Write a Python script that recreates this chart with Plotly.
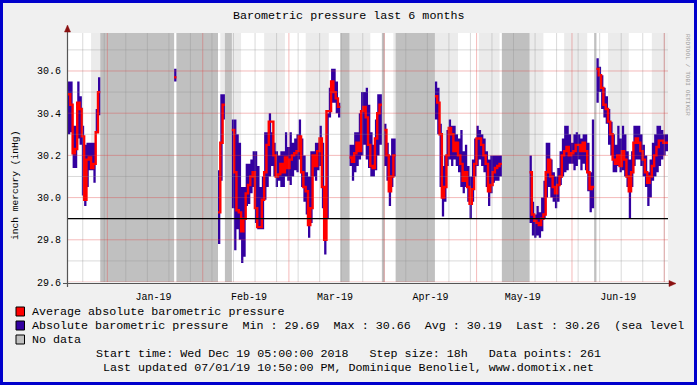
import pandas as pd
import plotly.graph_objects as go

# ---------------- chart constants / data ----------------
TITLE = "Barometric pressure last 6 months"
Y_TITLE = "inch mercury (inHg)"
START = pd.Timestamp("2018-12-19 05:00:00")
X_END = pd.Timestamp("2019-07-02 05:00:00")
STEP_HOURS = 18
N_POINTS = 261
Y_MIN, Y_MAX = 29.6, 30.78
HRULE_VALUE = 29.9

Y_TICKS = [29.6, 29.8, 30.0, 30.2, 30.4, 30.6]
Y_MINOR = [29.7, 29.9, 30.1, 30.3, 30.5, 30.7]
MONTH_LABELS = ["Jan-19", "Feb-19", "Mar-19", "Apr-19", "May-19", "Jun-19"]
MONTH_LABEL_POS = ["2019-01-16", "2019-02-16", "2019-03-16", "2019-04-16", "2019-05-16", "2019-06-16"]
MONTH_STARTS = ["2019-01-01", "2019-02-01", "2019-03-01", "2019-04-01", "2019-05-01", "2019-06-01", "2019-07-01"]
WEEK_STARTS = list(pd.date_range("2018-12-24", "2019-07-01", freq="7D"))

# min / max / average per 18h step, segment by segment (None = no data)
A_MIN = [30.30, 30.31, 30.14, 30.14, 30.28, 30.25, 30.01, 29.96, 30.05, 30.13, 30.13, 30.07, 30.31, 30.39]
A_MAX = [30.55, 30.55, 30.34, 30.34, 30.55, 30.48, 30.34, 30.25, 30.26, 30.26, 30.26, 30.26, 30.42, 30.57]
A_AVG = [30.49, 30.44, 30.21, 30.23, 30.45, 30.42, 30.29, 29.99, 30.18, 30.19, 30.14, 30.16, 30.31, 30.50]

B_MIN = [30.55]
B_MAX = [30.61]
B_AVG = [30.57]

C_MIN = [29.78, 30.08, 30.37]
C_MAX = [30.13, 30.49, 30.49]
C_AVG = [29.93, 30.26, 30.44]

D_MIN = [29.95, 29.75, 29.85, 29.80, 29.69, 29.72, 29.96, 29.97, 30.02, 30.05,
         29.88, 29.85, 29.85, 29.85, 29.99, 30.05, 30.10, 30.15, 30.10, 30.05,
         30.08, 30.05, 30.05, 30.10, 30.08, 30.06, 30.10, 30.13, 30.12, 30.18,
         30.05, 29.98, 29.92, 29.81, 29.88, 30.10, 30.08, 30.13, 30.15, 29.95,
         29.73, 29.90, 30.38, 30.45, 30.45, 30.40, 30.38]
D_MAX = [30.37, 30.37, 30.30, 30.26, 30.05, 30.05, 30.16, 30.16, 30.18, 30.22,
         30.22, 30.15, 30.05, 30.10, 30.31, 30.31, 30.40, 30.31, 30.26, 30.22,
         30.20, 30.22, 30.22, 30.31, 30.24, 30.31, 30.26, 30.28, 30.30, 30.37,
         30.28, 30.20, 30.12, 30.10, 30.22, 30.22, 30.26, 30.26, 30.34, 30.26,
         30.05, 30.40, 30.52, 30.61, 30.61, 30.55, 30.45]
D_AVG = [30.32, 30.12, 29.94, 29.93, 29.84, 29.90, 30.02, 30.06, 30.10, 30.12,
         29.95, 29.86, 29.86, 29.99, 30.12, 30.25, 30.36, 30.36, 30.20, 30.10,
         30.11, 30.16, 30.12, 30.19, 30.14, 30.18, 30.20, 30.21, 30.22, 30.29,
         30.12, 30.05, 30.03, 29.87, 29.95, 30.20, 30.15, 30.22, 30.28, 30.05,
         29.80, 30.41, 30.41, 30.55, 30.50, 30.47, 30.43]

E_MIN = [30.15, 30.08, 30.12, 30.15, 30.18, 30.20, 30.25, 30.18, 30.14, 30.10, 30.10, 30.13, 30.20, 30.25]
E_MAX = [30.25, 30.25, 30.31, 30.31, 30.40, 30.50, 30.50, 30.52, 30.44, 30.31, 30.25, 30.37, 30.49, 30.49]
E_AVG = [30.19, 30.17, 30.21, 30.26, 30.22, 30.41, 30.43, 30.38, 30.25, 30.15, 30.14, 30.28, 30.40, 30.44]

E2_MIN = [30.15, 30.08, 29.96, 30.05, 30.10]
E2_MAX = [30.35, 30.26, 30.20, 30.28, 30.28]
E2_AVG = [30.32, 30.20, 30.03, 30.10, 30.20]

F_MIN = [30.37, 30.30, 30.05, 29.91, 29.98, 30.15, 30.18, 30.15, 30.18, 30.15,
         30.12, 30.05, 30.02, 30.05, 29.98, 29.90, 29.98, 30.10, 30.15, 30.18,
         30.15, 30.12, 30.05, 29.96, 30.02, 30.07, 30.08, 30.08, 30.10]
F_MAX = [30.55, 30.52, 30.35, 30.15, 30.20, 30.32, 30.37, 30.34, 30.34, 30.30,
         30.28, 30.32, 30.22, 30.25, 30.15, 30.10, 30.18, 30.28, 30.34, 30.32,
         30.30, 30.28, 30.22, 30.18, 30.20, 30.20, 30.20, 30.20, 30.20]
F_AVG = [30.48, 30.45, 30.30, 30.00, 30.05, 30.20, 30.33, 30.30, 30.22, 30.26,
         30.20, 30.16, 30.08, 30.12, 30.05, 29.97, 30.04, 30.16, 30.28, 30.28,
         30.25, 30.20, 30.16, 30.03, 30.06, 30.12, 30.14, 30.15, 30.16]

G_MIN = [29.88, 29.82, 29.81, 29.82, 29.81, 29.84, 29.90, 30.00, 30.05, 30.00,
         29.98, 29.95, 29.98, 30.06, 30.10, 30.12, 30.13, 30.16, 30.16, 30.13,
         30.15, 30.18, 30.13, 30.16, 30.13, 30.03, 29.93, 29.95]
G_MAX = [30.20, 29.98, 29.92, 29.96, 29.93, 30.00, 30.08, 30.26, 30.26, 30.18,
         30.12, 30.10, 30.14, 30.22, 30.28, 30.34, 30.34, 30.30, 30.26, 30.30,
         30.31, 30.30, 30.28, 30.30, 30.30, 30.26, 30.12, 30.37]
G_AVG = [30.12, 29.92, 29.89, 29.88, 29.87, 29.90, 29.92, 30.12, 30.18, 30.10,
         30.05, 30.02, 30.06, 30.10, 30.20, 30.22, 30.24, 30.20, 30.21, 30.22,
         30.25, 30.25, 30.22, 30.26, 30.22, 30.12, 30.04, 30.05]

H_MIN = [30.45, 30.50, 30.42, 30.38, 30.35, 30.25, 30.20, 30.12, 30.12, 30.15,
         30.12, 30.13, 30.10, 30.05, 29.90, 30.05, 30.15, 30.18, 30.18, 30.15,
         30.10, 30.05, 29.96, 30.00, 30.08, 30.10, 30.12, 30.15, 30.18, 30.20,
         30.22, 30.24]
H_MAX = [30.66, 30.62, 30.58, 30.52, 30.48, 30.42, 30.36, 30.30, 30.25, 30.34,
         30.28, 30.34, 30.30, 30.22, 30.18, 30.22, 30.34, 30.34, 30.34, 30.30,
         30.25, 30.20, 30.12, 30.18, 30.26, 30.30, 30.34, 30.34, 30.32, 30.30,
         30.30, 30.28]
H_AVG = [30.61, 30.58, 30.52, 30.44, 30.42, 30.36, 30.30, 30.18, 30.16, 30.20,
         30.15, 30.22, 30.18, 30.10, 30.03, 30.12, 30.26, 30.28, 30.26, 30.22,
         30.18, 30.12, 30.07, 30.10, 30.15, 30.20, 30.24, 30.27, 30.27, 30.26,
         30.26, 30.26]


def nodata(n):
    return [None] * n


min_vals = (A_MIN + nodata(32) + B_MIN + nodata(18) + C_MIN + nodata(3) + D_MIN + nodata(4)
            + E_MIN + nodata(1) + E2_MIN + nodata(17) + F_MIN + nodata(12) + G_MIN + nodata(1) + H_MIN)
max_vals = (A_MAX + nodata(32) + B_MAX + nodata(18) + C_MAX + nodata(3) + D_MAX + nodata(4)
            + E_MAX + nodata(1) + E2_MAX + nodata(17) + F_MAX + nodata(12) + G_MAX + nodata(1) + H_MAX)
avg_vals = (A_AVG + nodata(32) + B_AVG + nodata(18) + C_AVG + nodata(3) + D_AVG + nodata(4)
            + E_AVG + nodata(1) + E2_AVG + nodata(17) + F_AVG + nodata(12) + G_AVG + nodata(1) + H_AVG)

LEGEND_AVG = "Average absolute barometric pressure"
LEGEND_ABS = ("Absolute barometric pressure\u00a0\u00a0Min : 29.69\u00a0\u00a0Max : 30.66"
              "\u00a0\u00a0Avg : 30.19\u00a0\u00a0Last : 30.26\u00a0\u00a0(sea level")
LEGEND_NODATA = "No data"
FOOT1 = "Start time: Wed Dec 19 05:00:00 2018\u00a0\u00a0\u00a0Step size: 18h\u00a0\u00a0\u00a0Data points: 261"
FOOT2 = "Last updated 07/01/19 10:50:00 PM, Dominique Benoliel, www.domotix.net"
CREDIT = "RRDTOOL / TOBI OETIKER"

# ---------------- styles ----------------
FONT = "Liberation Mono, DejaVu Sans Mono, monospace"
C_RED = "#FF0000"
C_PURPLE = "#3300A0"
C_NODATA = "#C0C0C0"
C_BAND = "#EBEBEB"
C_BG = "#F0F0F0"
C_MINOR = "rgba(140,140,140,0.32)"
C_MAJOR = "rgba(225,60,60,0.35)"
C_ARROW = "#8B1010"

W, H = 697, 385
ML, MR, MT, MB = 68, 29, 33, 103
PW, PH = W - ML - MR, H - MT - MB


def xp(px):
    return (px - ML) / PW


def yp(py):
    return (H - MB - py) / PH


def t(i):
    return START + pd.Timedelta(hours=STEP_HOURS * i)


def runs(mask):
    out, a = [], None
    for i, m in enumerate(mask + [False]):
        if m and a is None:
            a = i
        elif not m and a is not None:
            out.append((a, i - 1))
            a = None
    return out


have = [v is not None for v in avg_vals]

# alternate-week background bands (per step)
band_mask = [(max(0, i * STEP_HOURS - 1) // 168) % 2 == 1 for i in range(N_POINTS)]
bx, by = [], []
for a, b in runs(band_mask):
    bx += [t(a), t(a), t(b + 1), t(b + 1), None]
    by += [Y_MIN, Y_MAX, Y_MAX, Y_MIN, None]

# white area under the max
wx, wy = [], []
for a, b in runs(have):
    wx.append(t(a)); wy.append(Y_MIN)
    for i in range(a, b + 1):
        wx += [t(i), t(i + 1)]
        wy += [max_vals[i], max_vals[i]]
    wx += [t(b + 1), None]; wy += [Y_MIN, None]

# no data
nx, ny = [], []
for a, b in runs([not h for h in have]):
    nx += [t(a), t(a), t(b + 1), t(b + 1), None]
    ny += [Y_MIN, Y_MAX, Y_MAX, Y_MIN, None]

# min-max band
px_, py_ = [], []
for a, b in runs(have):
    for i in range(a, b + 1):
        px_ += [t(i), t(i + 1)]
        py_ += [max_vals[i], max_vals[i]]
    for i in range(b, a - 1, -1):
        px_ += [t(i + 1), t(i)]
        py_ += [min_vals[i], min_vals[i]]
    px_.append(None); py_.append(None)

# average step line
lx, ly = [], []
for a, b in runs(have):
    for i in range(a, b + 1):
        lx += [t(i), t(i + 1)]
        ly += [avg_vals[i], avg_vals[i]]
    lx.append(None); ly.append(None)

fig = go.Figure()
fig.add_trace(go.Scatter(x=bx, y=by, mode="lines", fill="toself", fillcolor=C_BAND,
                         line=dict(width=0), hoverinfo="skip"))
fig.add_trace(go.Scatter(x=wx, y=wy, mode="lines", fill="toself", fillcolor="#FFFFFF",
                         line=dict(width=0), hoverinfo="skip"))
fig.add_trace(go.Scatter(x=nx, y=ny, mode="lines", fill="toself", fillcolor=C_NODATA,
                         line=dict(width=0), hoverinfo="skip"))
fig.add_trace(go.Scatter(x=px_, y=py_, mode="lines", fill="toself", fillcolor=C_PURPLE,
                         line=dict(width=0), hoverinfo="skip"))
fig.add_trace(go.Scatter(x=lx, y=ly, mode="lines", line=dict(width=2.4, color=C_RED),
                         hoverinfo="skip"))

shapes = []
# grid
for w in WEEK_STARTS:
    shapes.append(dict(type="line", xref="x", yref="paper", x0=w, x1=w, y0=0, y1=1,
                       line=dict(color=C_MINOR, width=1), layer="above"))
for m in MONTH_STARTS:
    shapes.append(dict(type="line", xref="x", yref="paper", x0=m, x1=m, y0=0, y1=1,
                       line=dict(color=C_MAJOR, width=1), layer="above"))
for v in Y_MINOR:
    shapes.append(dict(type="line", xref="paper", yref="y", x0=0, x1=1, y0=v, y1=v,
                       line=dict(color=C_MINOR, width=1), layer="above"))
for v in Y_TICKS:
    shapes.append(dict(type="line", xref="paper", yref="y", x0=0, x1=1, y0=v, y1=v,
                       line=dict(color=C_MAJOR, width=1), layer="above"))
# horizontal rule
shapes.append(dict(type="line", xref="paper", yref="y", x0=0, x1=1, y0=HRULE_VALUE, y1=HRULE_VALUE,
                   line=dict(color="#000000", width=1.2), layer="above"))
# axes
shapes.append(dict(type="line", xref="paper", yref="paper", x0=xp(67.5), x1=xp(67.5),
                   y0=yp(287), y1=yp(30), line=dict(color="#555555", width=1.2), layer="above"))
shapes.append(dict(type="line", xref="paper", yref="paper", x0=xp(63), x1=xp(671),
                   y0=yp(283.5), y1=yp(283.5), line=dict(color="#555555", width=1.2), layer="above"))
shapes.append(dict(type="path", xref="paper", yref="paper",
                   path=f"M {xp(64.5)} {yp(32)} L {xp(67.5)} {yp(25)} L {xp(70.5)} {yp(32)} Z",
                   fillcolor=C_ARROW, line=dict(color=C_ARROW, width=0.5), layer="above"))
shapes.append(dict(type="path", xref="paper", yref="paper",
                   path=f"M {xp(669)} {yp(280.5)} L {xp(676)} {yp(283.5)} L {xp(669)} {yp(286.5)} Z",
                   fillcolor=C_ARROW, line=dict(color=C_ARROW, width=0.5), layer="above"))
# legend swatches
for (cy, col) in [(311.5, C_RED), (325.5, C_PURPLE), (339.5, C_NODATA)]:
    shapes.append(dict(type="rect", xref="paper", yref="paper",
                       x0=xp(16), x1=xp(24.5), y0=yp(cy + 4.5), y1=yp(cy - 4.5),
                       fillcolor=col, line=dict(color="#000000", width=1), layer="above"))
# blue border
shapes.append(dict(type="rect", xref="paper", yref="paper",
                   x0=xp(1.5), x1=xp(695.5), y0=yp(383.5), y1=yp(1.5),
                   line=dict(color="#0000CC", width=3), layer="above"))

annotations = [
    dict(text=TITLE, xref="paper", yref="paper", x=xp(348.5), y=yp(16), showarrow=False,
         xanchor="center", yanchor="middle", font=dict(family=FONT, size=11.7, color="#000000")),
    dict(text=Y_TITLE, xref="paper", yref="paper", x=xp(15), y=yp(186), showarrow=False,
         textangle=-90, xanchor="center", yanchor="middle",
         font=dict(family=FONT, size=9.6, color="#000000")),
    dict(text=LEGEND_AVG, xref="paper", yref="paper", x=xp(30), y=yp(311.5), showarrow=False,
         xanchor="left", yanchor="middle", font=dict(family=FONT, size=11.7, color="#000000")),
    dict(text=LEGEND_ABS, xref="paper", yref="paper", x=xp(30), y=yp(325.5), showarrow=False,
         xanchor="left", yanchor="middle", font=dict(family=FONT, size=11.7, color="#000000")),
    dict(text=LEGEND_NODATA, xref="paper", yref="paper", x=xp(30), y=yp(339.5), showarrow=False,
         xanchor="left", yanchor="middle", font=dict(family=FONT, size=11.7, color="#000000")),
    dict(text=FOOT1, xref="paper", yref="paper", x=xp(348.5), y=yp(354), showarrow=False,
         xanchor="center", yanchor="middle", font=dict(family=FONT, size=11.7, color="#000000")),
    dict(text=FOOT2, xref="paper", yref="paper", x=xp(348.5), y=yp(368), showarrow=False,
         xanchor="center", yanchor="middle", font=dict(family=FONT, size=11.7, color="#000000")),
    dict(text=CREDIT, xref="paper", yref="paper", x=xp(688), y=yp(75), showarrow=False,
         textangle=90, xanchor="center", yanchor="middle",
         font=dict(family=FONT, size=6.2, color="#A0A0A0")),
]

fig.update_layout(
    width=W, height=H, autosize=False,
    margin=dict(l=ML, r=MR, t=MT, b=MB, pad=0),
    paper_bgcolor=C_BG, plot_bgcolor="#FFFFFF",
    showlegend=False,
    shapes=shapes, annotations=annotations,
    xaxis=dict(type="date", range=[START, X_END], tickvals=MONTH_LABEL_POS, ticktext=MONTH_LABELS,
               ticks="", showgrid=False, zeroline=False, showline=False, fixedrange=True,
               automargin=False,
               ticklabelstandoff=7, tickfont=dict(family=FONT, size=10, color="#000000")),
    yaxis=dict(range=[Y_MIN, Y_MAX], tickvals=Y_TICKS, ticktext=[f"{v:.1f}" for v in Y_TICKS],
               ticks="", showgrid=False, zeroline=False, showline=False, fixedrange=True,
               automargin=False,
               ticklabelstandoff=6, tickfont=dict(family=FONT, size=10, color="#000000")),
)

fig.write_html("out.html", config=dict(displayModeBar=False),
               post_script="document.body.style.margin='0';document.body.style.overflow='hidden';")
